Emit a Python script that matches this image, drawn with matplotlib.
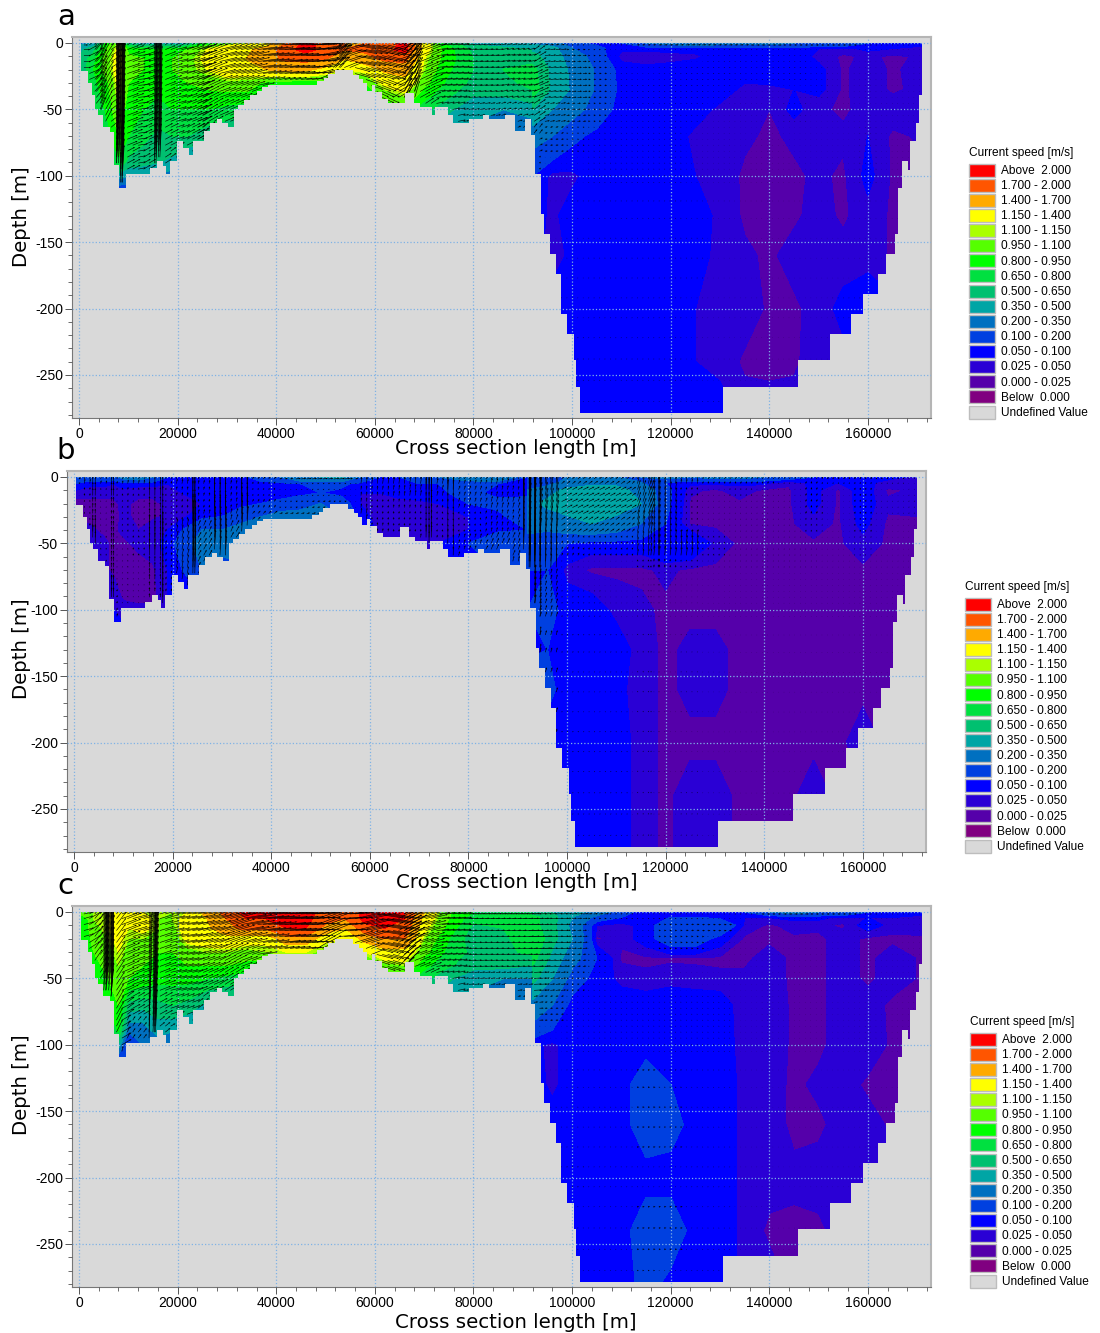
import numpy as np
import matplotlib
matplotlib.use('Agg')
import matplotlib.pyplot as plt
from matplotlib.path import Path
from matplotlib.patches import PathPatch, Rectangle
from matplotlib.ticker import MultipleLocator

plt.rcParams['axes.unicode_minus'] = False
plt.rcParams['font.family'] = ['Liberation Sans', 'DejaVu Sans']

# colour classes, low to high
levels = [-1, 0, 0.025, 0.05, 0.1, 0.2, 0.35, 0.5, 0.65, 0.8, 0.95, 1.1, 1.15, 1.4, 1.7, 2.0, 3.0]
colors = ['#800080', '#5500aa', '#2a00d5', '#0000ff', '#0040e0', '#0070c0', '#00a5a5', '#00c070',
          '#00e040', '#00ff00', '#55ff00', '#aaff00', '#ffff00', '#ffaa00', '#ff5500', '#ff0000']
undefined_color = '#d9d9d9'
legend_title = 'Current speed [m/s]'
legend_labels = ['Above  2.000', '1.700 - 2.000', '1.400 - 1.700', '1.150 - 1.400', '1.100 - 1.150',
                 '0.950 - 1.100', '0.800 - 0.950', '0.650 - 0.800', '0.500 - 0.650', '0.350 - 0.500',
                 '0.200 - 0.350', '0.100 - 0.200', '0.050 - 0.100', '0.025 - 0.050', '0.000 - 0.025',
                 'Below  0.000', 'Undefined Value']

# sea bed, stepped: edge positions in km and depth in m between them
bed_edges = [0.34, 1.9, 2.6, 3.2, 3.9, 4.9, 6.3, 7.1, 8.2, 9.5, 14.3, 15.9, 17, 17.6, 18.5, 19.8, 21, 22.4, 23.2,
             25.4, 26.6, 27.9, 29.1, 30.3, 31.4, 32.3, 33.5, 34.7, 36, 37.2, 38.4, 48.2, 49.6, 50.6, 51.9, 55.6,
             56.7, 57.5, 58.4, 59.4, 60, 61.4, 62.7, 66.1, 68, 69.2, 71.5, 72.2, 74.9, 75.9, 79, 82, 83.2, 86.4,
             88.4, 90.5, 91.6, 92.5, 93.6, 94.4, 95.5, 96.7, 97.8, 98.9, 100.3, 100.9, 101.7, 130.6, 145.9, 152.3,
             156.5, 159, 162.1, 163.6, 165.4, 166.1, 167, 168.1, 168.6, 169.8, 170.3, 171]
bed_depth = [21, 30, 39, 50, 54, 63, 67, 92, 109, 99, 94, 89, 93, 99, 89, 74, 79, 84, 74, 66, 60, 57, 60, 63, 50, 47,
             43, 39, 36, 33, 32, 29, 26, 23, 20, 24, 27, 30, 36, 32, 37, 42, 45, 38, 45, 48, 54, 48, 54, 60, 57, 54,
             57, 54, 66, 57, 69, 99, 129, 144, 159, 174, 204, 219, 239, 259, 279, 259, 239, 219, 204, 189, 174, 159,
             144, 109, 89, 96, 74, 60, 39]

# speed, shelf part (x in km, depth in m)
shelf_x = [0, 3, 6, 8, 10, 13, 16, 19, 22, 26, 30, 34, 38, 42, 46, 50, 54, 58, 62, 66, 70, 74, 80, 86, 92]
shelf_d = [0, 5, 12, 20, 30, 40, 50, 70, 90, 110]

shelf_a = [
    [.30, .35, .9, 1.1, .5, .35, .35, .35, .4, .8, 1.0, 1.1, 1.25, 1.7, 2.1, 1.9, 1.7, 1.7, 1.8, 2.1, 1.3, .8, .45, .4, .3],
    [.45, .6, 1.0, 1.2, .9, .85, .8, .85, .95, 1.15, 1.35, 1.35, 1.5, 1.9, 2.1, 1.9, 1.7, 1.75, 1.9, 2.1, 1.25, .9, .6, .55, .5],
    [.5, .75, 1.05, 1.25, 1.0, .95, .85, .95, 1.05, 1.2, 1.4, 1.4, 1.6, 1.75, 1.8, 1.7, 1.4, 1.6, 1.75, 1.8, 1.15, .9, .65, .65, .6],
    [.5, .8, 1.05, 1.25, 1.0, .95, .85, .95, 1.05, 1.15, 1.3, 1.25, 1.4, 1.5, 1.45, 1.3, 1.15, 1.2, 1.45, 1.5, 1.1, .85, .65, .65, .7],
    [.5, .75, .95, 1.2, .95, .9, .85, .9, .95, 1.0, 1.05, 1.05, .9, .85, .85, .85, 1.0, .95, 1.2, 1.3, 1.0, .8, .6, .6, .7],
    [.5, .7, .9, 1.15, .9, .85, .8, .85, .85, .9, .9, .9, .8, .8, .8, .8, .8, .8, 1.0, 1.1, .85, .7, .5, .5, .6],
    [.5, .65, .85, 1.1, .85, .8, .75, .8, .8, .8, .75, .7, .6, .6, .6, .6, .6, .6, .8, .9, .7, .55, .4, .35, .4],
    [.3, .5, .75, .95, .8, .7, .6, .65, .65, .55, .5, .45, .4, .4, .4, .4, .4, .4, .5, .5, .4, .35, .3, .25, .25],
    [.3, .4, .6, .75, .6, .55, .5, .45, .3, .25, .2, .2, .2, .2, .2, .2, .2, .2, .2, .2, .2, .2, .2, .2, .2],
    [.2, .2, .1, .1, .1, .1, .1, .1, .08, .08, .08, .08, .08, .08, .08, .08, .08, .08, .08, .08, .08, .08, .08, .08, .08],
]
shelf_b = [
    [.15, .15, .2, .15, .25, .3, .2, .1, .1, .08, .08, .08, .15, .2, .35, .35, .4, .2, .1, .1, .15, .2, .3, .35, .1],
    [.1, .06, .06, .05, .06, .06, .06, .05, .07, .07, .07, .07, .07, .08, .1, .12, .12, .08, .08, .08, .1, .1, .12, .1, .08],
    [.03, .03, .03, .03, .04, .03, .03, .035, .05, .06, .07, .07, .06, .07, .08, .1, .08, .05, .05, .06, .07, .09, .12, .08, .07],
    [.02, .02, .02, .02, .03, .02, .02, .03, .04, .05, .06, .08, .1, .12, .15, .2, .15, .05, .03, .04, .04, .05, .1, .12, .15],
    [.02, .02, .02, .015, .03, .02, .02, .03, .04, .08, .1, .15, .2, .25, .25, .28, .2, .07, .03, .03, .03, .04, .05, .08, .15],
    [.02, .03, .02, .02, .03, .025, .04, .05, .1, .2, .2, .25, .28, .3, .3, .3, .2, .08, .04, .03, .03, .04, .05, .08, .1],
    [.03, .05, .03, .02, .02, .03, .04, .06, .15, .25, .25, .3, .25, .2, .2, .2, .15, .07, .05, .05, .05, .05, .1, .2, .15],
    [.05, .05, .03, .02, .02, .015, .02, .05, .1, .2, .15, .15, .1, .1, .1, .1, .1, .07, .05, .05, .05, .05, .07, .1, .1],
    [.05, .05, .02, .04, .02, .015, .015, .05, .08, .1, .08, .08, .08, .08, .08, .08, .08, .07, .05, .05, .05, .05, .07, .07, .07],
    [.05, .05, .05, .06, .05, .05, .05, .05, .05, .05, .05, .05, .05, .05, .05, .05, .05, .05, .05, .05, .05, .05, .05, .05, .05],
]
shelf_c = [
    [1.0, 1.1, 1.15, 1.3, 1.15, 1.15, 1.15, 1.1, 1.15, 1.5, 1.8, 2.1, 2.1, 2.1, 2.1, 1.9, 1.7, 2.1, 2.1, 2.0, 1.4, 1.0, .8, .8, .8],
    [.7, 1.1, 1.15, 1.3, 1.2, 1.2, 1.1, 1.1, 1.2, 1.4, 1.7, 2.0, 2.0, 2.1, 2.1, 1.8, 1.7, 2.1, 2.1, 2.0, 1.3, 1.0, .7, .7, .75],
    [.75, 1.05, 1.15, 1.25, 1.15, 1.2, 1.1, 1.05, 1.25, 1.35, 1.6, 1.8, 1.75, 2.0, 2.0, 1.6, 1.4, 1.9, 2.0, 1.9, 1.2, .95, .6, .65, .8],
    [.75, 1.0, 1.1, 1.2, 1.1, 1.1, 1.0, 1.0, 1.2, 1.25, 1.3, 1.25, 1.2, 1.6, 1.6, 1.2, 1.15, 1.5, 1.7, 1.7, 1.1, .85, .55, .6, .8],
    [.7, .95, 1.05, 1.15, 1.05, 1.0, .95, .95, 1.05, 1.1, 1.1, 1.05, 1.1, 1.15, 1.15, 1.05, 1.0, 1.15, 1.3, 1.3, 1.0, .8, .6, .6, .7],
    [.7, .9, 1.0, 1.1, 1.0, .95, .9, .9, .95, .95, .95, .9, .85, .9, .9, .9, .9, .95, 1.05, 1.1, .85, .7, .55, .55, .5],
    [.7, .85, .95, 1.05, .95, .9, .85, .85, .85, .8, .75, .7, .65, .65, .65, .65, .65, .7, .85, .9, .7, .55, .4, .35, .35],
    [.4, .6, .85, .95, .6, .55, .6, .65, .6, .45, .4, .4, .4, .4, .4, .4, .4, .4, .5, .5, .4, .35, .3, .25, .2],
    [.3, .4, .6, .8, .2, .25, .4, .35, .3, .2, .2, .2, .2, .2, .2, .2, .2, .2, .2, .2, .2, .2, .2, .2, .15],
    [.2, .2, .1, .1, .15, .15, .1, .1, .1, .1, .08, .08, .08, .08, .08, .08, .08, .08, .08, .08, .08, .08, .08, .08, .08],
]

# speed, deep basin part
basin_x = [92, 96, 100, 105, 110, 115, 120, 125, 130, 135, 140, 145, 150, 155, 160, 165, 172]
basin_d = [0, 4, 10, 20, 35, 50, 70, 100, 130, 160, 200, 240, 285]

basin_a = [
    [.3, .25, .12, .08, .1, .2, .25, .3, .25, .25, .25, .2, .2, .2, .1, .08, .06],
    [.45, .4, .2, .12, .06, .06, .07, .07, .08, .08, .08, .07, .05, .04, .06, .05, .04],
    [.55, .42, .28, .14, .035, .03, .03, .04, .07, .07, .07, .07, .04, .02, .03, .02, .03],
    [.7, .45, .32, .18, .07, .06, .07, .08, .08, .07, .08, .08, .06, .02, .04, .02, .04],
    [.75, .45, .33, .18, .08, .08, .08, .08, .07, .04, .04, .05, .06, .02, .04, .02, .035],
    [.5, .35, .25, .15, .07, .07, .07, .07, .04, .04, .025, .06, .03, .02, .035, .04, .02],
    [.25, .2, .12, .08, .07, .07, .07, .04, .04, .03, .02, .03, .03, .03, .05, .02, .03],
    [.1, .035, .04, .07, .07, .07, .07, .05, .04, .02, .02, .02, .03, .02, .06, .02, .02],
    [.07, .04, .07, .07, .07, .07, .07, .06, .045, .02, .02, .02, .035, .02, .04, .02, .02],
    [.07, .03, .06, .07, .07, .07, .07, .07, .035, .03, .02, .035, .035, .035, .04, .02, .03],
    [.07, .07, .06, .07, .07, .07, .07, .05, .04, .04, .02, .02, .035, .06, .07, .06, .06],
    [.07, .07, .08, .07, .07, .07, .07, .05, .04, .02, .02, .02, .04, .04, .04, .04, .04],
    [.07, .07, .07, .07, .07, .07, .07, .07, .07, .04, .035, .04, .04, .04, .04, .04, .04],
]
basin_b = [
    [.15, .2, .2, .2, .2, .2, .25, .2, .25, .25, .2, .15, .1, .08, .08, .06, .04],
    [.12, .12, .25, .3, .3, .2, .1, .06, .06, .06, .06, .03, .06, .05, .06, .04, .02],
    [.2, .3, .38, .42, .4, .3, .12, .03, .02, .035, .02, .02, .06, .02, .07, .02, .03],
    [.3, .38, .42, .42, .42, .35, .12, .02, .02, .02, .02, .02, .06, .02, .07, .03, .035],
    [.25, .25, .3, .35, .3, .2, .1, .02, .02, .02, .02, .02, .04, .02, .06, .02, .02],
    [.15, .12, .1, .07, .07, .07, .1, .1, .04, .02, .02, .02, .02, .02, .04, .02, .02],
    [.1, .1, .035, .02, .02, .02, .03, .02, .02, .02, .02, .02, .02, .02, .02, .02, .02],
    [.1, .12, .08, .07, .04, .03, .02, .02, .02, .02, .02, .02, .02, .02, .02, .02, .02],
    [.08, .1, .08, .07, .07, .035, .02, .03, .03, .02, .02, .02, .02, .02, .02, .02, .02],
    [.15, .12, .07, .06, .06, .035, .02, .03, .03, .02, .02, .02, .02, .02, .02, .02, .02],
    [.08, .07, .08, .07, .07, .035, .02, .02, .02, .02, .02, .02, .02, .02, .035, .02, .02],
    [.07, .07, .07, .07, .07, .035, .02, .035, .035, .02, .02, .02, .035, .02, .02, .02, .02],
    [.07, .07, .07, .07, .07, .035, .02, .035, .035, .02, .02, .02, .02, .02, .02, .02, .02],
]
basin_c = [
    [.55, .5, .4, .3, .12, .08, .08, .08, .08, .1, .2, .25, .2, .2, .1, .08, .06],
    [.7, .55, .35, .15, .1, .09, .1, .1, .07, .05, .05, .06, .06, .04, .05, .05, .04],
    [.7, .55, .3, .05, .03, .07, .15, .2, .2, .04, .02, .035, .03, .02, .07, .035, .04],
    [.8, .55, .35, .02, .03, .07, .15, .15, .07, .02, .02, .02, .02, .035, .02, .02, .02],
    [.7, .45, .25, .1, .02, .02, .02, .02, .02, .02, .035, .02, .02, .035, .02, .035, .02],
    [.55, .35, .15, .07, .04, .03, .04, .035, .03, .03, .035, .02, .02, .035, .02, .035, .02],
    [.3, .2, .07, .07, .07, .07, .07, .07, .07, .03, .04, .02, .02, .035, .035, .02, .02],
    [.06, .04, .07, .07, .07, .07, .07, .07, .07, .035, .04, .02, .02, .035, .04, .02, .02],
    [.07, .04, .07, .07, .07, .15, .1, .07, .07, .04, .035, .02, .03, .035, .02, .02, .02],
    [.07, .07, .07, .07, .07, .15, .13, .07, .07, .04, .035, .02, .02, .035, .035, .02, .02],
    [.07, .07, .09, .07, .07, .07, .07, .07, .07, .04, .035, .03, .035, .035, .04, .035, .02],
    [.07, .07, .07, .07, .07, .15, .15, .07, .07, .04, .02, .02, .02, .035, .02, .02, .02],
    [.07, .07, .07, .07, .07, .12, .07, .07, .07, .04, .04, .02, .02, .02, .02, .02, .02],
]

# vertical part of the arrows along the section, and where the arrow columns crowd together
lift_x_a = [0, 2, 3.5, 5, 6.5, 7.5, 8.5, 10, 12, 14, 15.5, 16.5, 18, 20, 23, 26, 30, 34, 38, 42, 46, 50, 52, 54, 58, 62, 64, 66, 68, 70, 74, 80, 90, 93, 96, 100, 172]
lift_a = [0, .3, .6, .9, .5, 2.2, 2.2, .3, .1, .3, 2.0, 2.0, .3, .2, .3, .4, .3, .3, .2, .15, .1, .3, .8, .4, -.3, -.4, .5, 1.0, 1.2, .4, .1, .05, .1, .3, .05, .02, 0]
crowd_a = [3.5, 4.5, 7.6, 8, 8.4, 8.8, 15.6, 16.1, 24, 25, 52, 53, 66, 67, 68]

lift_x_b = [0, 3, 4.5, 6, 8, 9, 12, 17, 19, 22, 24, 26, 30, 32, 35, 37, 45, 70, 72, 74, 76, 78, 90, 92, 97, 100, 112, 116, 124, 130, 172]
lift_b = [.1, .6, 1.8, .4, 1.8, .4, .5, 2.0, .4, .5, 1.8, .4, 1.4, .4, 1.4, .2, .05, .6, 1.8, .4, 1.3, .3, .4, 1.8, 1.0, .2, .2, .7, .6, .3, .2]
crowd_b = [3.8, 8, 18, 24.5, 72, 92.5, 93.5, 94.5, 117, 118.5]

lift_x_c = [0, 2, 4, 5.5, 6.5, 7.5, 9, 12, 14.5, 15.5, 17, 20, 26, 30, 34, 38, 42, 46, 50, 54, 58, 62, 66, 70, 74, 80, 172]
lift_c = [.2, .5, .8, 2.0, 2.0, .9, .4, .3, 1.8, 1.8, .3, .2, .3, .4, .3, .2, .15, .1, .5, .1, .4, -.3, .7, .3, .1, .03, 0]
crowd_c = [5, 5.5, 6, 6.5, 15, 15.5, 66, 67]

# depths of the arrow rows
arrow_rows = [1.5, 5, 9.5, 14, 18.5, 23, 27.5, 32, 36.5, 41, 45.5, 50, 54.5, 59, 63.5, 68, 72.5, 77, 81.5, 86, 90.5, 95, 100,
              105, 119, 132, 147, 162, 177, 192, 207, 222, 238, 254, 270]

# panel geometry in pixels of the 1100 x 1333 picture
panels = [
    {'letter': 'a', 'left': 72, 'top': 37, 'legend_x': 969, 'legend_y': 152, 'label_x': 516, 'label_y': 448, 'ylab_y': 217, 'letter_x': 66, 'letter_y': 17,
     'shelf': shelf_a, 'basin': basin_a, 'lift_x': lift_x_a, 'lift': lift_a, 'crowd': crowd_a},
    {'letter': 'b', 'left': 67, 'top': 471, 'legend_x': 965, 'legend_y': 586, 'label_x': 517, 'label_y': 882, 'ylab_y': 649, 'letter_x': 66, 'letter_y': 451,
     'shelf': shelf_b, 'basin': basin_b, 'lift_x': lift_x_b, 'lift': lift_b, 'crowd': crowd_b},
    {'letter': 'c', 'left': 72, 'top': 906, 'legend_x': 970, 'legend_y': 1021, 'label_x': 516, 'label_y': 1322, 'ylab_y': 1085, 'letter_x': 65, 'letter_y': 886,
     'shelf': shelf_c, 'basin': basin_c, 'lift_x': lift_x_c, 'lift': lift_c, 'crowd': crowd_c},
]

W, H = 1100, 1333
fig = plt.figure(figsize=(W / 100, H / 100), dpi=100)

# sea bed outline used to cut the contours
bed_edges_m = np.array(bed_edges) * 1000
verts = [(bed_edges_m[0], 0)]
for i, d in enumerate(bed_depth):
    verts.append((bed_edges_m[i], -d))
    verts.append((bed_edges_m[i + 1], -d))
verts.append((bed_edges_m[-1], 0))
verts.append((bed_edges_m[0], 0))

sx = np.array(shelf_x, dtype=float)
sd = np.array(shelf_d, dtype=float)
bx = np.array(basin_x, dtype=float)
bd = np.array(basin_d, dtype=float)

for p in panels:
    ax = fig.add_axes([p['left'] / W, 1 - (p['top'] + 381) / H, 859 / W, 381 / H])
    ax.set_facecolor(undefined_color)
    ax.set_xlim(-1420, 172800)
    ax.set_ylim(-282.4, 4.5)

    shelf = np.array(p['shelf'])
    basin = np.array(p['basin'])
    clip = PathPatch(Path(verts), transform=ax.transData, fc='none', ec='none')
    ax.add_patch(clip)
    cs1 = ax.contourf(sx * 1000, -sd, shelf, levels=levels, colors=colors)
    cs2 = ax.contourf(bx * 1000, -bd, basin, levels=levels, colors=colors)
    for cs in [cs1, cs2]:
        cs.set_edgecolor('face')
        cs.set_linewidth(0.4)
        cs.set_clip_path(clip)

    # arrows, speed taken from the nearest node of the grids above
    columns = sorted(list(np.arange(1, 171, 1.1)) + p['crowd'])
    ax_x, ax_y, ax_u, ax_v = [], [], [], []
    nodes = np.array(p['lift_x'])
    for c in columns:
        k = np.searchsorted(bed_edges, c) - 1
        if k < 0 or k >= len(bed_depth):
            continue
        for r in arrow_rows:
            if r >= bed_depth[k]:
                continue
            if c < 92:
                s = shelf[np.abs(sd - r).argmin(), np.abs(sx - c).argmin()]
            else:
                s = basin[np.abs(bd - r).argmin(), np.abs(bx - c).argmin()]
            lift = p['lift'][np.abs(nodes - c).argmin()]
            if r > 70 and c >= 92:
                lift = lift * 0.35
            ax_x.append(c * 1000)
            ax_y.append(-r)
            ax_u.append(s / (1 + lift ** 2))
            ax_v.append(lift * min(s, 0.1) / 0.1)
    q = ax.quiver(ax_x, ax_y, ax_u, ax_v, angles='uv', scale_units='dots', scale=1 / 14, units='dots',
                  width=0.6, headwidth=3, headlength=3.5, headaxislength=3, minlength=0.7, color='black', zorder=3)
    q.set_clip_path(clip)

    ax.xaxis.set_minor_locator(MultipleLocator(4000))
    ax.yaxis.set_minor_locator(MultipleLocator(10))
    ax.set_xticks(np.arange(0, 160001, 20000))
    ax.set_yticks(np.arange(-250, 1, 50))
    ax.tick_params(which='major', length=5, width=0.7, color='#555555', labelsize=10, pad=1.5)
    ax.tick_params(which='minor', length=3, width=0.6, color='#555555')
    ax.grid(True, which='major', color='#7fb2e5', ls=':', lw=0.9, zorder=4)
    ax.set_axisbelow(False)
    for side in ['left', 'bottom']:
        ax.spines[side].set_color('#777777')
        ax.spines[side].set_linewidth(0.8)
    for side in ['top', 'right']:
        ax.spines[side].set_color('#b5b5b5')
        ax.spines[side].set_linewidth(1.5)

# labels and legends go on one overlay in picture pixels
over = fig.add_axes([0, 0, 1, 1], zorder=10)
over.set_xlim(0, W)
over.set_ylim(H, 0)
over.axis('off')
over.patch.set_alpha(0)
cut = Rectangle((0, 0), 1089, H, transform=over.transData)

swatches = colors[::-1] + [undefined_color]
for p in panels:
    over.text(p['letter_x'], p['letter_y'], p['letter'], fontsize=21, family='DejaVu Sans', ha='center', va='center')
    over.text(p['label_x'], p['label_y'], 'Cross section length [m]', fontsize=14.2, family='DejaVu Sans', ha='center', va='center')
    over.text(22, p['ylab_y'], 'Depth [m]', fontsize=14.2, family='DejaVu Sans', rotation=90, ha='center', va='center')
    over.text(p['legend_x'], p['legend_y'] + 0.8, legend_title, fontsize=8.6, ha='left', va='center')
    for i, (col, lab) in enumerate(zip(swatches, legend_labels)):
        y = p['legend_y'] + 18 + i * 15.125
        over.add_patch(Rectangle((p['legend_x'], y - 6.5), 26, 13, fc=col, ec='#bdbdbd', lw=1))
        t = over.text(p['legend_x'] + 32, y + 0.8, lab, fontsize=8.6, ha='left', va='center')
        t.set_clip_path(cut)

fig.savefig('out.png', dpi=100, facecolor='white')
